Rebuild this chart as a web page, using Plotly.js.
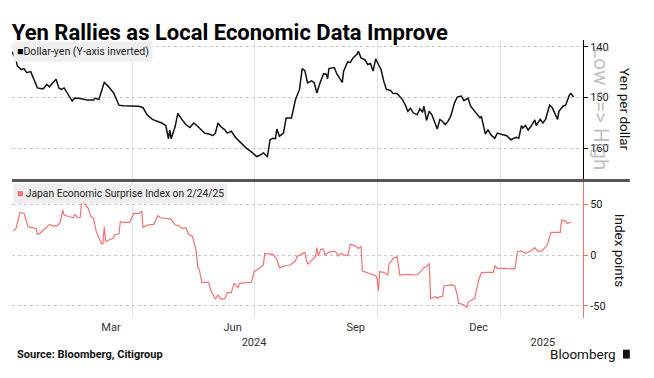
<!DOCTYPE html>
<html>
<head>
<meta charset="utf-8">
<script src="https://cdn.plot.ly/plotly-3.0.1.min.js"></script>
<style>html,body{margin:0;padding:0;background:#fff}#chart{width:654px;height:378px}</style>
</head>
<body>
<div id="chart"></div>
<script>
// Dollar-yen (top panel, inverted axis)
const usdjpyDates = ['2024-01-02','2024-01-05','2024-01-06','2024-01-09','2024-01-11','2024-01-13','2024-01-16','2024-01-17','2024-01-21','2024-01-25','2024-01-26','2024-01-28','2024-01-30','2024-02-01','2024-02-04','2024-02-06','2024-02-08','2024-02-10','2024-02-12','2024-02-16','2024-02-18','2024-02-22','2024-02-27','2024-03-03','2024-03-04','2024-03-07','2024-03-11','2024-03-14','2024-03-18','2024-03-20','2024-03-22','2024-03-25','2024-04-01','2024-04-06','2024-04-09','2024-04-12','2024-04-16','2024-04-18','2024-04-23','2024-04-26','2024-04-28','2024-04-29','2024-04-30','2024-05-03','2024-05-05','2024-05-08','2024-05-11','2024-05-14','2024-05-17','2024-05-20','2024-05-22','2024-05-25','2024-05-29','2024-05-31','2024-06-02','2024-06-04','2024-06-06','2024-06-09','2024-06-11','2024-06-14','2024-06-17','2024-06-21','2024-06-25','2024-06-29','2024-07-03','2024-07-05','2024-07-08','2024-07-10','2024-07-11','2024-07-13','2024-07-15','2024-07-17','2024-07-18','2024-07-20','2024-07-23','2024-07-25','2024-07-29','2024-08-01','2024-08-04','2024-08-06','2024-08-08','2024-08-10','2024-08-13','2024-08-15','2024-08-17','2024-08-19','2024-08-22','2024-08-24','2024-08-25','2024-08-26','2024-08-30','2024-09-01','2024-09-05','2024-09-06','2024-09-09','2024-09-11','2024-09-13','2024-09-16','2024-09-17','2024-09-19','2024-09-22','2024-09-24','2024-09-26','2024-09-28','2024-09-30','2024-10-02','2024-10-04','2024-10-06','2024-10-08','2024-10-11','2024-10-13','2024-10-16','2024-10-18','2024-10-20','2024-10-22','2024-10-24','2024-10-26','2024-10-28','2024-10-31','2024-11-02','2024-11-04','2024-11-05','2024-11-07','2024-11-09','2024-11-11','2024-11-15','2024-11-17','2024-11-19','2024-11-21','2024-11-23','2024-11-25','2024-11-28','2024-11-30','2024-12-03','2024-12-05','2024-12-08','2024-12-10','2024-12-14','2024-12-17','2024-12-18','2024-12-20','2024-12-21','2024-12-23','2024-12-25','2024-12-28','2024-12-30','2025-01-03','2025-01-06','2025-01-09','2025-01-13','2025-01-15','2025-01-17','2025-01-18','2025-01-20','2025-01-22','2025-01-24','2025-01-27','2025-01-28','2025-01-31','2025-02-02','2025-02-04','2025-02-07','2025-02-09','2025-02-13','2025-02-14','2025-02-17','2025-02-19','2025-02-22','2025-02-23','2025-02-25'];
const usdjpyValues = [141.0,142.5,143.8,144.5,144.3,145.1,144.9,145.5,148.1,148.3,148.1,147.4,147.9,147.3,146.4,148.1,148.4,148.1,149.0,150.7,150.1,150.2,150.5,150.5,150.1,150.4,147.0,147.8,149.1,150.4,151.5,151.6,151.6,151.7,152.0,153.4,154.3,154.5,155.0,155.5,158.1,156.4,158.1,155.7,153.1,154.3,155.3,155.9,155.0,155.7,156.3,157.0,157.2,157.5,157.1,155.0,155.7,156.3,157.0,156.6,157.8,158.9,159.9,160.7,161.6,161.4,160.9,161.4,161.6,158.3,158.0,158.1,156.2,157.6,157.0,154.0,154.0,150.4,148.4,144.3,144.7,147.1,146.7,147.1,149.1,147.4,145.3,145.4,146.3,144.3,144.1,145.4,147.0,144.8,143.0,143.1,142.2,141.5,140.9,142.2,142.6,143.5,143.3,144.8,142.4,143.5,144.5,146.8,148.4,148.6,149.2,149.2,149.7,150.4,151.4,152.7,152.1,153.0,153.4,152.2,152.9,151.7,154.5,152.7,153.4,156.2,154.3,154.7,155.3,154.7,153.7,151.0,149.9,149.7,150.6,150.1,151.7,153.0,154.0,153.7,155.7,157.2,156.3,157.3,158.0,157.0,157.3,157.5,158.3,157.8,158.0,155.5,156.0,155.5,156.4,155.7,154.4,155.5,154.3,155.0,154.3,151.5,152.0,154.3,152.7,151.7,151.5,149.4,149.2,149.9];

// Japan Economic Surprise Index (bottom panel)
const esiDates = ['2024-01-03','2024-01-05','2024-01-08','2024-01-11','2024-01-14','2024-01-17','2024-01-20','2024-01-21','2024-01-23','2024-01-26','2024-01-27','2024-01-30','2024-02-02','2024-02-05','2024-02-07','2024-02-09','2024-02-10','2024-02-14','2024-02-17','2024-02-18','2024-02-20','2024-02-22','2024-02-23','2024-02-25','2024-02-28','2024-03-01','2024-03-03','2024-03-05','2024-03-07','2024-03-09','2024-03-10','2024-03-11','2024-03-12','2024-03-16','2024-03-18','2024-03-19','2024-03-22','2024-03-23','2024-03-25','2024-03-30','2024-04-02','2024-04-06','2024-04-08','2024-04-09','2024-04-12','2024-04-17','2024-04-18','2024-04-20','2024-04-22','2024-04-26','2024-04-30','2024-05-03','2024-05-06','2024-05-08','2024-05-11','2024-05-13','2024-05-16','2024-05-18','2024-05-19','2024-05-20','2024-05-21','2024-05-23','2024-05-28','2024-05-30','2024-06-02','2024-06-04','2024-06-06','2024-06-09','2024-06-11','2024-06-14','2024-06-16','2024-06-19','2024-06-20','2024-06-25','2024-06-29','2024-07-01','2024-07-05','2024-07-08','2024-07-09','2024-07-15','2024-07-18','2024-07-20','2024-07-24','2024-07-28','2024-08-01','2024-08-02','2024-08-07','2024-08-08','2024-08-10','2024-08-12','2024-08-15','2024-08-16','2024-08-17','2024-08-18','2024-08-20','2024-08-22','2024-08-23','2024-08-26','2024-08-29','2024-08-31','2024-09-02','2024-09-04','2024-09-07','2024-09-09','2024-09-11','2024-09-15','2024-09-17','2024-09-19','2024-09-20','2024-09-25','2024-09-30','2024-10-01','2024-10-02','2024-10-03','2024-10-06','2024-10-09','2024-10-10','2024-10-11','2024-10-13','2024-10-16','2024-10-18','2024-10-23','2024-10-31','2024-11-02','2024-11-05','2024-11-07','2024-11-09','2024-11-10','2024-11-14','2024-11-15','2024-11-17','2024-11-19','2024-11-20','2024-11-26','2024-11-28','2024-11-30','2024-12-01','2024-12-04','2024-12-07','2024-12-08','2024-12-11','2024-12-13','2024-12-16','2024-12-18','2024-12-22','2024-12-27','2024-12-28','2024-12-30','2025-01-05','2025-01-08','2025-01-10','2025-01-12','2025-01-14','2025-01-17','2025-01-20','2025-01-24','2025-01-27','2025-01-29','2025-02-01','2025-02-05','2025-02-06','2025-02-08','2025-02-15','2025-02-16','2025-02-19','2025-02-20','2025-02-23'];
const esiValues = [23.5,26.1,41.8,40.8,27.8,26.8,26.1,20.3,21.2,25.5,26.1,30.1,28.4,28.8,32.0,44.1,39.2,37.6,36.6,39.9,36.6,36.6,51.6,50.7,45.8,37.6,35.9,22.9,16.3,10.8,11.4,27.8,13.1,15.7,17.0,20.3,20.6,32.7,32.0,32.0,40.8,40.8,43.1,27.1,29.4,30.1,32.7,38.6,36.6,35.9,35.3,29.4,28.8,26.1,26.8,20.3,18.0,8.2,1.0,-12.4,-13.7,-26.8,-26.8,-35.9,-43.1,-39.2,-43.1,-43.1,-36.9,-36.9,-27.8,-32.0,-27.8,-27.1,-26.8,-16.3,-13.1,-9.8,1.6,0.7,-3.9,-12.4,-10.5,-9.8,-5.9,-1.6,1.6,2.6,-9.2,-6.5,-2.6,-1.6,7.2,-0.7,5.9,5.9,0.0,2.6,3.9,3.3,-1.0,1.6,0.0,-0.7,10.5,8.8,6.5,8.2,-15.7,-18.0,-20.3,-22.9,-35.3,-16.3,-17.0,-19.6,-8.2,-7.2,-3.3,-1.6,-19.6,-19.0,-19.6,-17.0,-12.4,-11.4,-8.2,-42.5,-40.8,-42.5,-40.8,-40.8,-30.1,-29.4,-30.1,-39.2,-47.4,-48.4,-51.3,-46.4,-44.1,-42.5,-24.5,-17.3,-17.0,-17.0,-10.5,-13.1,-13.1,-13.7,-13.1,-13.7,3.3,3.9,1.6,3.9,7.2,3.9,3.9,9.2,13.1,22.2,22.2,34.3,33.3,31.0,32.0];

// Axis ticks / labels
const gridDates = ['2024-04-01','2024-07-01','2024-10-01','2025-01-01'];
const monthLabelDates = ['2024-03-16','2024-06-15','2024-09-15','2024-12-16'];
const monthLabels = ['Mar','Jun','Sep','Dec'];
const yearLabelDates = ['2024-07-01','2025-02-02'];
const yearLabels = ['2024','2025'];
const yenTicks = [140,150,160];
const esiTicks = [-50,0,50];
const esiTickText = ['-50','0','50'];
const xRange = ['2024-01-02','2025-03-04'];

const RED = '#f07272';
const FONT = 'Roboto, Arial, sans-serif';

const traces = [
  {x: usdjpyDates, y: usdjpyValues, type: 'scatter', mode: 'lines', xaxis: 'x', yaxis: 'y',
   line: {color: '#111', width: 1.5}, hoverinfo: 'skip', name: 'Dollar-yen'},
  {x: esiDates, y: esiValues, type: 'scatter', mode: 'lines', xaxis: 'x2', yaxis: 'y2',
   line: {color: RED, width: 1.2}, hoverinfo: 'skip', name: 'ESI'},
  {x: [], y: [], xaxis: 'x3', yaxis: 'y2', type: 'scatter', showlegend: false},
  {x: [], y: [], xaxis: 'x4', yaxis: 'y2', type: 'scatter', showlegend: false}
];

const gridX = {range: xRange, type: 'date', tickmode: 'array', tickvals: gridDates, showticklabels: false,
  ticks: '', showgrid: true, gridcolor: '#e3e3e3', gridwidth: 1, zeroline: false, showline: false, fixedrange: true};

const layout = {
  width: 654, height: 378,
  margin: {l: 12, r: 71, t: 40, b: 60},
  paper_bgcolor: '#fff', plot_bgcolor: '#fff',
  showlegend: false,
  font: {family: FONT, color: '#222'},
  title: {text: '<b>Yen Rallies as Local Economic Data Improve</b>', x: 0.018, xanchor: 'left',
          y: 0.915, yanchor: 'middle', font: {size: 22, family: FONT, color: '#000'}},
  xaxis: Object.assign({}, gridX, {anchor: 'y', domain: [0, 1]}),
  xaxis2: Object.assign({}, gridX, {anchor: 'y2', domain: [0, 1]}),
  xaxis3: {overlaying: 'x2', anchor: 'y2', range: xRange, type: 'date', tickmode: 'array',
           tickvals: monthLabelDates, ticktext: monthLabels, showgrid: false, ticks: '', zeroline: false,
           showline: false, tickfont: {size: 11, color: '#333'}, ticklabelstandoff: 1},
  xaxis4: {overlaying: 'x2', anchor: 'y2', range: xRange, type: 'date', tickmode: 'array',
           tickvals: yearLabelDates, ticktext: yearLabels, showgrid: false, ticks: '', zeroline: false,
           showline: false, tickfont: {size: 11, color: '#333'}, ticklabelstandoff: 16},
  yaxis: {domain: [0.496, 1], anchor: 'x', side: 'right', range: [166.24, 138.68],
          tickmode: 'array', tickvals: yenTicks, showgrid: true, griddash: 'dot', gridcolor: '#c9c9c9',
          showline: true, linecolor: '#000', linewidth: 1, ticks: 'outside', ticklen: 4, tickcolor: '#000',
          tickfont: {size: 11, color: '#222'}, zeroline: false, fixedrange: true},
  yaxis2: {domain: [0, 0.489], anchor: 'x2', side: 'right', range: [-61.8, 71.6],
           tickmode: 'array', tickvals: esiTicks, ticktext: esiTickText, showgrid: true, griddash: 'dot',
           gridcolor: '#c9c9c9', showline: true, linecolor: RED, linewidth: 1, ticks: 'outside', ticklen: 4,
           tickcolor: RED, tickfont: {size: 11, color: '#222'}, zeroline: false, fixedrange: true},
  shapes: [
    {type: 'line', xref: 'paper', yref: 'paper', x0: 0, x1: 1.082, y0: 0.4945, y1: 0.4945,
     line: {color: '#555', width: 3}},
    {type: 'rect', xref: 'paper', yref: 'paper', x0: 1.07, x1: 1.082, y0: -0.146, y1: -0.114,
     fillcolor: '#111', line: {width: 0}}
  ],
  annotations: [
    {xref: 'paper', yref: 'paper', x: 0.002, y: 0.998, xanchor: 'left', yanchor: 'top', showarrow: false,
     text: '<span style="color:#000">■</span>Dollar-yen (Y-axis inverted)', bgcolor: '#efefef', borderpad: 3,
     font: {size: 10.6, color: '#222'}},
    {xref: 'paper', yref: 'paper', x: 0.002, y: 0.484, xanchor: 'left', yanchor: 'top', showarrow: false,
     text: '<span style="color:' + RED + '">■</span> Japan Economic Surprise Index on 2/24/25', bgcolor: '#efefef', borderpad: 3,
     font: {size: 10.3, color: '#222'}},
    {xref: 'paper', yref: 'paper', x: 1.031, y: 0.752, xanchor: 'center', yanchor: 'middle', showarrow: false,
     textangle: 90, text: 'Low &lt;=&gt; High', font: {size: 20.5, color: 'rgba(150,150,150,0.6)'}},
    {xref: 'paper', yref: 'paper', x: 1.0735, y: 0.748, xanchor: 'center', yanchor: 'middle', showarrow: false,
     textangle: 90, text: 'Yen per dollar', font: {size: 13.5, color: '#111'}},
    {xref: 'paper', yref: 'paper', x: 1.065, y: 0.245, xanchor: 'center', yanchor: 'middle', showarrow: false,
     textangle: 90, text: 'Index points', font: {size: 13.5, color: '#111'}},
    {xref: 'paper', yref: 'paper', x: 0.005, y: -0.13, xanchor: 'left', yanchor: 'middle', showarrow: false,
     text: '<b>Source: Bloomberg, Citigroup</b>', font: {size: 11, color: '#111'}},
    {xref: 'paper', yref: 'paper', x: 1.062, y: -0.13, xanchor: 'right', yanchor: 'middle', showarrow: false,
     text: 'Bloomberg', font: {size: 13.5, color: '#111'}}
  ]
};

Plotly.newPlot('chart', traces, layout, {displayModeBar: false, staticPlot: true});
</script>
</body>
</html>
